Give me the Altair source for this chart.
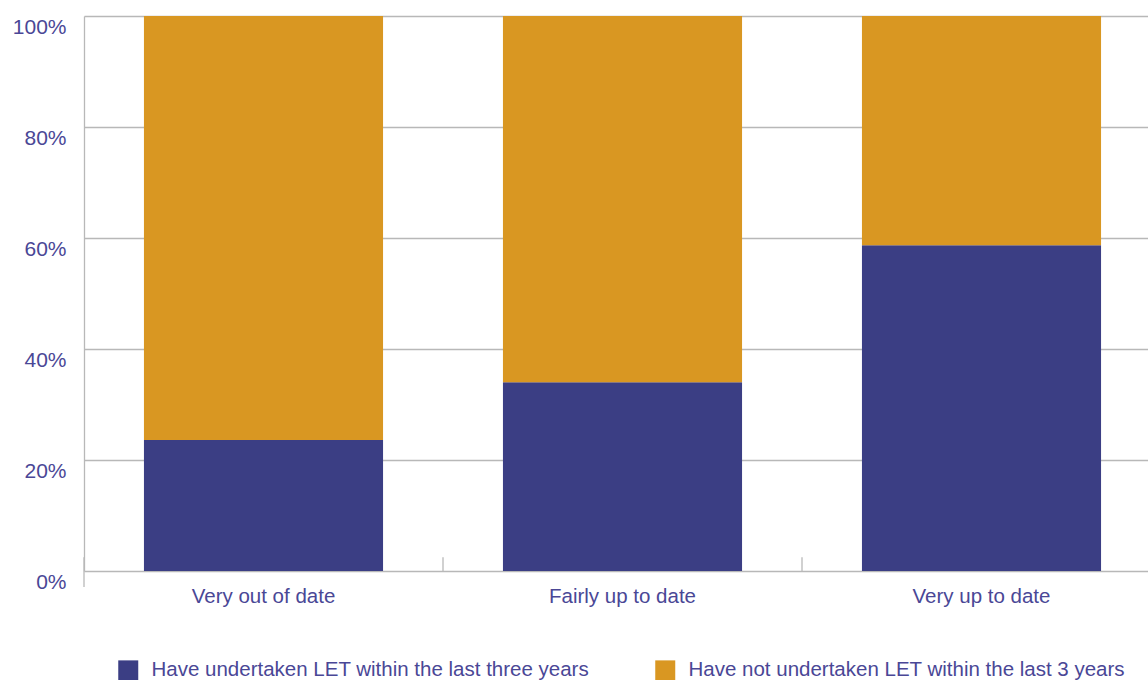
import altair as alt
import pandas as pd

# Share of respondents by how up to date they consider their skills
categories = ["Very out of date", "Fairly up to date", "Very up to date"]
undertaken = [23.6, 34.0, 58.7]       # % who have undertaken LET in the last three years
not_undertaken = [76.4, 66.0, 41.3]   # % who have not

series = ["Have undertaken LET within the last three years",
          "Have not undertaken LET within the last 3 years"]
colors = ["#3b3e84", "#d99722"]
y_ticks = [0, 20, 40, 60, 80, 100]

TEXT = "#4a4796"
GRID = "#b8b8b8"
FONT = "Liberation Sans"

rows = []
for i, c in enumerate(categories):
    rows.append({"cat": c, "series": series[0], "value": undertaken[i], "ord": 0})
    rows.append({"cat": c, "series": series[1], "value": not_undertaken[i], "ord": 1})
df = pd.DataFrame(rows)

X_RANGE = 1077
PAD_INNER = 0.334
STEP = X_RANGE / len(categories)

x_scale = alt.Scale(domain=categories, range=[0, X_RANGE],
                    paddingInner=PAD_INNER, paddingOuter=PAD_INNER / 2)
y_scale = alt.Scale(domain=[0, 100], nice=False)

bars = alt.Chart(df).mark_bar().encode(
    x=alt.X("cat:N", scale=x_scale, sort=categories,
            axis=alt.Axis(title=None, labelAngle=0, ticks=False, domain=False,
                          labelFontSize=20.5, labelColor=TEXT, labelFont=FONT,
                          labelPadding=15)),
    y=alt.Y("value:Q", stack="zero", scale=y_scale,
            axis=alt.Axis(title=None, values=y_ticks, labelExpr="datum.value + '%'",
                          ticks=False, grid=True, gridColor=GRID, gridWidth=1.3,
                          domain=True, domainColor=GRID, domainWidth=1.3,
                          labelFontSize=21, labelColor=TEXT, labelFont=FONT,
                          labelPadding=18, labelOffset=11)),
    color=alt.Color("series:N", sort=series,
                    scale=alt.Scale(domain=series, range=colors),
                    legend=alt.Legend(title=None, orient="none", direction="horizontal",
                                      legendX=34, legendY=644, padding=0,
                                      symbolType="square", symbolSize=400,
                                      symbolStrokeWidth=0, symbolOpacity=1,
                                      labelFontSize=20.5, labelColor=TEXT, labelFont=FONT,
                                      labelOffset=13, columnPadding=65,
                                      labelLimit=0)),
    order=alt.Order("ord:Q", sort="ascending"),
)

# Ticks rising from the baseline at the boundary between category bands
tick_df = pd.DataFrame({"cat": categories, "y0": [0] * 3, "y1": [2.5] * 3})
ticks = alt.Chart(tick_df).mark_rule(
    color=GRID, strokeWidth=1.3, xOffset=-STEP * PAD_INNER / 2
).encode(
    x=alt.X("cat:N", bandPosition=0, scale=x_scale, sort=categories),
    y=alt.Y("y0:Q", scale=y_scale),
    y2="y1:Q",
)

# Left axis line continues a little below the baseline
axis_ext = alt.Chart(pd.DataFrame({"k": [0]})).mark_rule(color=GRID, strokeWidth=1.3).encode(
    x=alt.value(0), y=alt.value(555), y2=alt.value(571),
)

chart = alt.layer(bars, ticks, axis_ext).properties(
    width=1064, height=555,
    autosize=alt.AutoSizeParams(type="none"),
    padding={"left": 84, "top": 16, "right": 0, "bottom": 109},
).configure(
    background="white",
    view=alt.ViewConfig(stroke=None),
)

chart.save("out.html", embed_options={"renderer": "svg", "actions": False})
